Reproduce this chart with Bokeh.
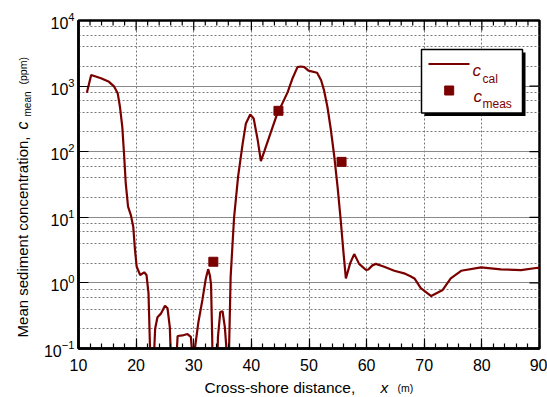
import math
from bokeh.plotting import figure
from bokeh.models import SingleIntervalTicker, LogTicker, Label
from bokeh.embed import file_html
from bokeh.resources import INLINE

# ---------------- data ----------------
x_cal = [11.45, 12.2, 13.9, 15.3, 16.2, 16.8, 17.2, 17.6, 17.9, 18.2, 18.6, 19.1, 19.5, 19.8,
         20.1, 20.7, 21.4, 21.8, 22.15, 22.4, 22.6, 22.9, 23.0, 23.3, 23.7, 24.3, 25.0, 25.45,
         25.85, 26.1, 26.5, 26.9, 27.2, 28.05, 28.9, 29.5, 29.7, 29.9, 30.0, 30.2, 30.8, 31.5,
         32.1, 32.5, 32.8, 33.0, 33.2, 33.4, 33.9, 34.2, 34.6, 35.0, 35.4, 35.75, 35.95, 36.15,
         36.4, 37.0, 37.7, 38.5, 39.05, 39.8, 40.4, 41.1, 41.65, 42.3, 43.4, 44.4, 45.4, 46.3,
         47.15, 48.0, 48.6, 49.2, 49.9, 51.4, 52.1, 52.6, 53.2, 53.8, 54.4, 54.96, 55.5, 56.0,
         56.4, 57.15, 57.85, 58.7, 59.9, 60.3, 61.0, 61.6, 63.05, 64.8, 66.5, 67.6, 68.3, 69.4,
         71.2, 73.2, 74.6, 76.4, 79.85, 83.3, 86.8, 89.7, 90.0]
c_cal = [790, 1480, 1320, 1160, 980, 780, 480, 240, 93, 33, 14.5, 10.7, 7.2, 3.2,
         1.76, 1.32, 1.45, 1.32, 0.69, 0.11, 0.01, 0.01, 0.05, 0.2, 0.30, 0.34, 0.45, 0.41,
         0.21, 0.05, 0.01, 0.05, 0.155, 0.158, 0.166, 0.15, 0.09, 0.01, 0.01, 0.1, 0.25, 0.55,
         1.17, 1.62, 1.3, 0.95, 0.15, 0.01, 0.01, 0.15, 0.36, 0.37, 0.21, 0.08, 0.02, 0.12,
         1.23, 10, 42, 135, 270, 370, 320, 150, 72, 105, 200, 360, 550, 810,
         1320, 1950, 1990, 1950, 1720, 1600, 1230, 870, 480, 214, 83, 29, 9.1, 2.8,
         1.17, 2.0, 2.75, 1.95, 1.57, 1.6, 1.85, 1.95, 1.76, 1.53, 1.40, 1.26, 1.17, 0.83,
         0.63, 0.78, 1.17, 1.53, 1.72, 1.61, 1.57, 1.70, 1.70]
x_meas = [33.4, 44.7, 55.65]
c_meas = [2.1, 420, 70]

x_major_ticks = [10, 20, 30, 40, 50, 60, 70, 80, 90]
x_minor_ticks = [v for v in range(12, 90, 2) if v % 10 != 0]
y_major_ticks = [0.1, 1, 10, 100, 1000, 10000]

x_min, x_max = 10, 90
y_min, y_max = 0.1, 1e4

FONT = "Liberation Sans"
RED = "#7a0000"

# frame geometry (pixels)
FL, FT, FW, FH = 78, 20, 461, 328


def dx(px):
    return x_min + (px - FL) * (x_max - x_min) / FW


def dy(py):
    lo, hi = math.log10(y_min), math.log10(y_max)
    return 10 ** (hi - (py - FT) * (hi - lo) / FH)


p = figure(frame_width=FW, frame_height=FH, x_range=(x_min, x_max), y_range=(y_min, y_max),
           y_axis_type="log", output_backend="svg", toolbar_location=None,
           min_border_left=FL, min_border_right=8, min_border_top=FT, min_border_bottom=49)
p.background_fill_color = "white"
p.border_fill_color = "white"
p.outline_line_color = "black"
p.outline_line_width = 2.5

bottom = p.below[0]
left = p.left[0]
bottom.ticker = SingleIntervalTicker(interval=10, num_minor_ticks=5)
left.ticker = LogTicker()

bottom.major_tick_in = 10
bottom.major_tick_out = 0
bottom.minor_tick_in = 5
bottom.minor_tick_out = 0
left.major_tick_in = 10
left.major_tick_out = 0
left.minor_tick_in = 0
left.minor_tick_out = 0
for ax in [bottom, left]:
    ax.axis_line_color = "black"
    ax.axis_line_width = 2.5
    ax.major_tick_line_color = "black"
    ax.major_tick_line_width = 1.2
    ax.minor_tick_line_color = "black"
    ax.minor_tick_line_width = 1.2
    ax.major_label_text_font = FONT
    ax.major_label_text_font_size = "16px"
    ax.major_label_text_color = "black"
bottom.major_label_standoff = 10
left.major_label_standoff = 4

p.xgrid.grid_line_color = "#777777"
p.xgrid.grid_line_dash = "2 2"
p.xgrid.grid_line_width = 1
p.ygrid.grid_line_color = "#8a8a8a"
p.ygrid.grid_line_width = 1.2
p.ygrid.minor_grid_line_color = "#777777"
p.ygrid.minor_grid_line_dash = "2 2"
p.ygrid.minor_grid_line_width = 1

# inward ticks on the top and right frame edges (half of each dash is clipped away)
p.scatter(x_major_ticks, [y_max] * len(x_major_ticks), marker="dash", size=20, angle=math.pi / 2,
          line_color="black", line_width=1.2)
p.scatter(x_minor_ticks, [y_max] * len(x_minor_ticks), marker="dash", size=10, angle=math.pi / 2,
          line_color="black", line_width=1.2)
p.scatter([x_max] * len(y_major_ticks), y_major_ticks, marker="dash", size=20,
          line_color="black", line_width=1.2)

# data
p.line(x_cal, c_cal, line_color=RED, line_width=2.2)
p.scatter(x_meas, c_meas, marker="square", size=9, color=RED)

# legend box with shadow
p.quad(left=[dx(424)], right=[dx(525)], top=[dy(52)], bottom=[dy(115.5)], fill_color="black", line_color=None)
p.quad(left=[dx(421)], right=[dx(522)], top=[dy(49)], bottom=[dy(112.5)], fill_color="white",
       line_color="black", line_width=1.5)
p.line([dx(428), dx(469)], [dy(63.5), dy(63.5)], line_color=RED, line_width=2.2)
p.scatter([dx(448.7)], [dy(90)], marker="square", size=9, color=RED)


def lab(px, py, text, size, style="normal", color="black", align="left", angle=0):
    p.add_layout(Label(x=dx(px), y=dy(py), text=text, text_font=FONT, text_font_size=size,
                       text_font_style=style, text_color=color, text_align=align,
                       text_baseline="alphabetic", angle=angle))


def clab(side, px, py, text, size, style="normal", align="left", angle=0):
    # canvas-positioned title pieces, hosted in the side panels (never clipped by the frame)
    p.add_layout(Label(x=px, y=py, x_units="canvas", y_units="canvas", text=text, text_font=FONT,
                       text_font_size=size, text_font_style=style, text_color="black",
                       text_align=align, text_baseline="alphabetic", angle=angle), side)


lab(472, 70, "c", "17px", "italic", RED)
lab(482, 78, "cal", "12px", "normal", RED)
lab(473, 96, "c", "17px", "italic", RED)
lab(482, 103.5, "meas", "12px", "normal", RED)

A = math.pi / 2
# axis titles
clab("below", 359, 387, "Cross-shore  distance,", "15.5px", align="right")
clab("right", 380, 387, "x", "15.5px", "italic")
clab("above", 397, 387, "(m)", "10.5px")

clab("left", 22, 136, "Mean sediment concentration,", "15px", align="right", angle=A)
clab("above", 22, 129, "c", "16px", "italic", angle=A)
clab("left", 27, 116, "mean", "10px", angle=A)
clab("left", 22, 84, "(ppm)", "10.5px", angle=A)

open("out.html", "w").write(file_html(p, INLINE))
